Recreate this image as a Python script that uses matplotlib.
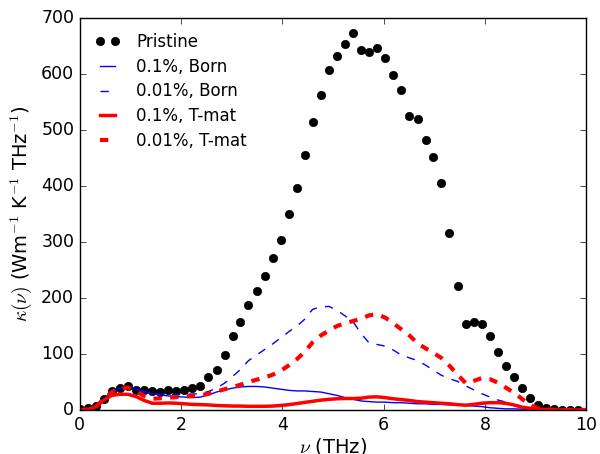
import numpy as np
import matplotlib
matplotlib.use('Agg')
import matplotlib.pyplot as plt

plt.style.use('classic')

# frequency grid (THz)
freq = [0.00, 0.16, 0.32, 0.48, 0.63, 0.79, 0.95, 1.11, 1.27, 1.43,
        1.59, 1.75, 1.90, 2.06, 2.22, 2.38, 2.54, 2.70, 2.86, 3.02,
        3.17, 3.33, 3.49, 3.65, 3.81, 3.97, 4.13, 4.29, 4.44, 4.60,
        4.76, 4.92, 5.08, 5.24, 5.40, 5.56, 5.71, 5.87, 6.03, 6.19,
        6.35, 6.51, 6.67, 6.83, 6.98, 7.14, 7.30, 7.46, 7.62, 7.78,
        7.94, 8.10, 8.25, 8.41, 8.57, 8.73, 8.89, 9.05, 9.21, 9.37,
        9.52, 9.68, 9.84, 10.00]

pristine = [1, 3, 7, 19, 33, 40, 43, 36, 35, 33,
            32, 35, 33, 36, 39, 42, 59, 72, 99, 132,
            158, 187, 212, 239, 272, 303, 351, 396, 456, 514,
            562, 607, 633, 654, 673, 644, 639, 646, 629, 599,
            571, 526, 520, 482, 452, 405, 317, 222, 154, 157,
            154, 133, 104, 79, 59, 40, 21, 8, 4, 1,
            0.6, 0.5, 0.3]

born_01 = [0, 1, 6, 20, 33, 39, 41, 38, 33, 29,
           27, 25, 24, 23, 22, 23, 27, 32, 36, 39,
           41, 42, 42, 41, 39, 37, 35, 34, 34, 33,
           32, 29, 26, 22, 19, 16, 15, 14, 14, 13,
           13, 12, 11, 11, 10, 10, 9, 9, 8, 7,
           6, 4, 3, 2, 2, 1.5, 1, 0.5, 0.2, 0.1,
           0, 0, 0, 0]

born_001 = [0, 1, 6, 20, 32, 39, 40, 37, 32, 29,
            28, 27.5, 27.5, 28, 28.5, 29, 33, 39, 48, 60,
            72, 88, 98, 108, 118, 129, 140, 150, 162, 180,
            184, 185, 178, 168, 157, 136, 120, 117, 114, 107,
            98, 93, 88, 80, 71, 62, 56, 51, 43, 36,
            29, 23, 18, 14, 10, 7, 3.5, 1.5, 0.5, 0.2,
            0, 0, 0, 0]

tmat_01 = [0, 1, 6, 18, 26, 28, 28, 24, 17, 12,
           12, 12.5, 12, 11, 10, 9.5, 9, 8, 7.5, 7,
           7, 6.5, 6.5, 6.5, 7, 8, 9.5, 11.5, 13.5, 15.5,
           17.5, 19, 20, 20.5, 20.5, 21, 23, 23.5, 22, 20,
           18.5, 17, 15, 14, 13, 12, 11, 9.5, 8.5, 10,
           12, 13, 13, 12, 9, 5, 3, 1.5, 0.5, 0.2,
           0, 0, 0, 0]

tmat_001 = [0, 1, 6, 20, 32, 39, 40, 33, 25, 20,
            21, 22, 23, 24, 25, 26, 29, 33, 37, 41,
            45, 50, 54, 58, 63, 70, 80, 91, 104, 121,
            133, 142, 150, 155, 159, 163, 169, 171, 165, 155,
            144, 133, 119, 110, 102, 93, 79, 63, 48, 52,
            57, 55, 49, 40, 31, 20, 9, 3, 1, 0.3,
            0, 0, 0, 0]

fig = plt.figure(figsize=(6, 4.54), dpi=100)
ax = fig.add_axes([0.133, 0.097, 0.844, 0.863])

ax.plot(freq[:len(pristine)], pristine, 'ko', markersize=6, label='Pristine')
ax.plot(freq, born_01, 'b-', lw=1, label='0.1%, Born')
ax.plot(freq, born_001, 'b--', lw=1, label='0.01%, Born')
ax.plot(freq, tmat_01, 'r-', lw=2.5, label='0.1%, T-mat')
ax.plot(freq, tmat_001, 'r--', lw=3, label='0.01%, T-mat')

ax.set_xlim(0, 10)
ax.set_ylim(0, 700)
ax.set_xticks([0, 2, 4, 6, 8, 10])
ax.set_yticks(np.arange(0, 701, 100))
ax.set_xlabel(r'$\nu$ (THz)', fontsize=14, labelpad=2)
ax.set_ylabel(r'$\kappa(\nu)$ (Wm$^{-1}$ K$^{-1}$ THz$^{-1}$)', fontsize=14)
ax.tick_params(labelsize=12.5)
ax.legend(loc='upper left', frameon=False, numpoints=2, fontsize=12,
          labelspacing=0.4, handlelength=1.5, handletextpad=1.0)

fig.savefig('out.png', dpi=100)
